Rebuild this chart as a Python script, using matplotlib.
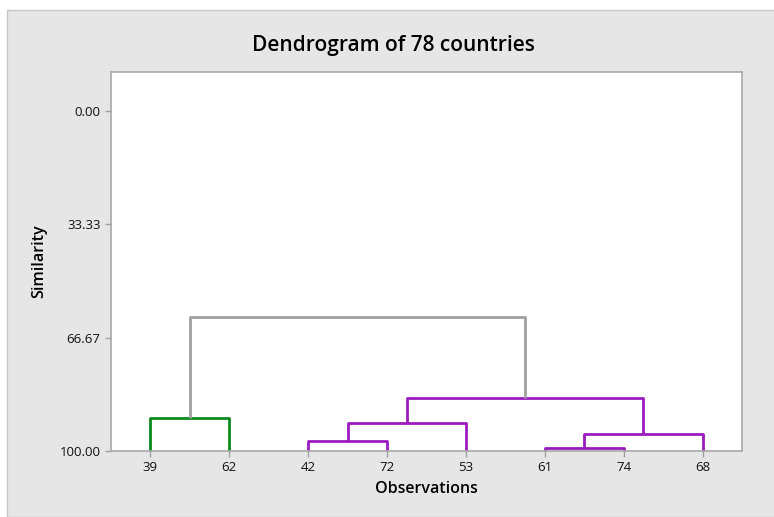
import matplotlib.pyplot as plt
from matplotlib.patches import Rectangle

plt.rcParams['font.family'] = ['Open Sans', 'DejaVu Sans']

# leaf order along the x axis
labels = ["39", "62", "42", "72", "53", "61", "74", "68"]
# merges: (left cluster, right cluster, similarity level, colour)
# clusters 0..7 are leaves, new clusters are numbered from 8 on
merge_left = [0, 2, 9, 5, 11, 10, 8]
merge_right = [1, 3, 4, 6, 7, 12, 13]
merge_sim = [90.4, 97.1, 91.8, 99.2, 95.1, 84.5, 60.6]
merge_col = ["#0a8a1f", "#9b1bbf", "#9b1bbf", "#9b1bbf", "#9b1bbf", "#9b1bbf", "#a0a0a0"]

fig = plt.figure(figsize=(7.74, 5.17), dpi=100)
fig.patch.set_facecolor("white")
bg = Rectangle((7/774, 0), 1, 1 - 10/517, transform=fig.transFigure,
               facecolor="#e6e6e6", edgecolor="#c8c8c8", lw=1, zorder=-10)
fig.patches.append(bg)

ax = fig.add_axes([111/774, 1 - 451/517, (742-111)/774, (451-72)/517])
ax.set_zorder(5)
ax.set_facecolor("white")

xpos = {i: i + 1 for i in range(len(labels))}
ypos = {i: 100.0 for i in range(len(labels))}
for k in range(len(merge_left)):
    a, b = merge_left[k], merge_right[k]
    h = merge_sim[k]
    ax.plot([xpos[a], xpos[a], xpos[b], xpos[b]], [ypos[a], h, h, ypos[b]],
            color=merge_col[k], lw=2.0, solid_capstyle="butt", clip_on=False)
    node = len(labels) + k
    xpos[node] = (xpos[a] + xpos[b]) / 2
    ypos[node] = h

ax.set_xlim(0.5, 8.5)
ax.set_ylim(100, -11.5)
ax.set_xticks(range(1, len(labels) + 1))
ax.set_xticklabels(labels)
ax.set_yticks([0, 33.33, 66.67, 100])
ax.set_yticklabels(["0.00", "33.33", "66.67", "100.00"])
ax.tick_params(axis="both", colors="#a0a0a0", labelcolor="#111111", labelsize=9.5,
               length=4, width=1)
for s in ax.spines.values():
    s.set_color("#a8a8a8")
    s.set_linewidth(1.2)

ax.set_xlabel("Observations", fontsize=11.5, fontweight="semibold", labelpad=5)
ax.set_ylabel("Similarity", fontsize=11.5, fontweight="semibold", labelpad=9)
fig.text(393/774, 1 - 46/517, "Dendrogram of 78 countries", ha="center", va="center",
         fontsize=15, fontweight="semibold")

fig.savefig("out.png", dpi=100, facecolor=fig.get_facecolor())
